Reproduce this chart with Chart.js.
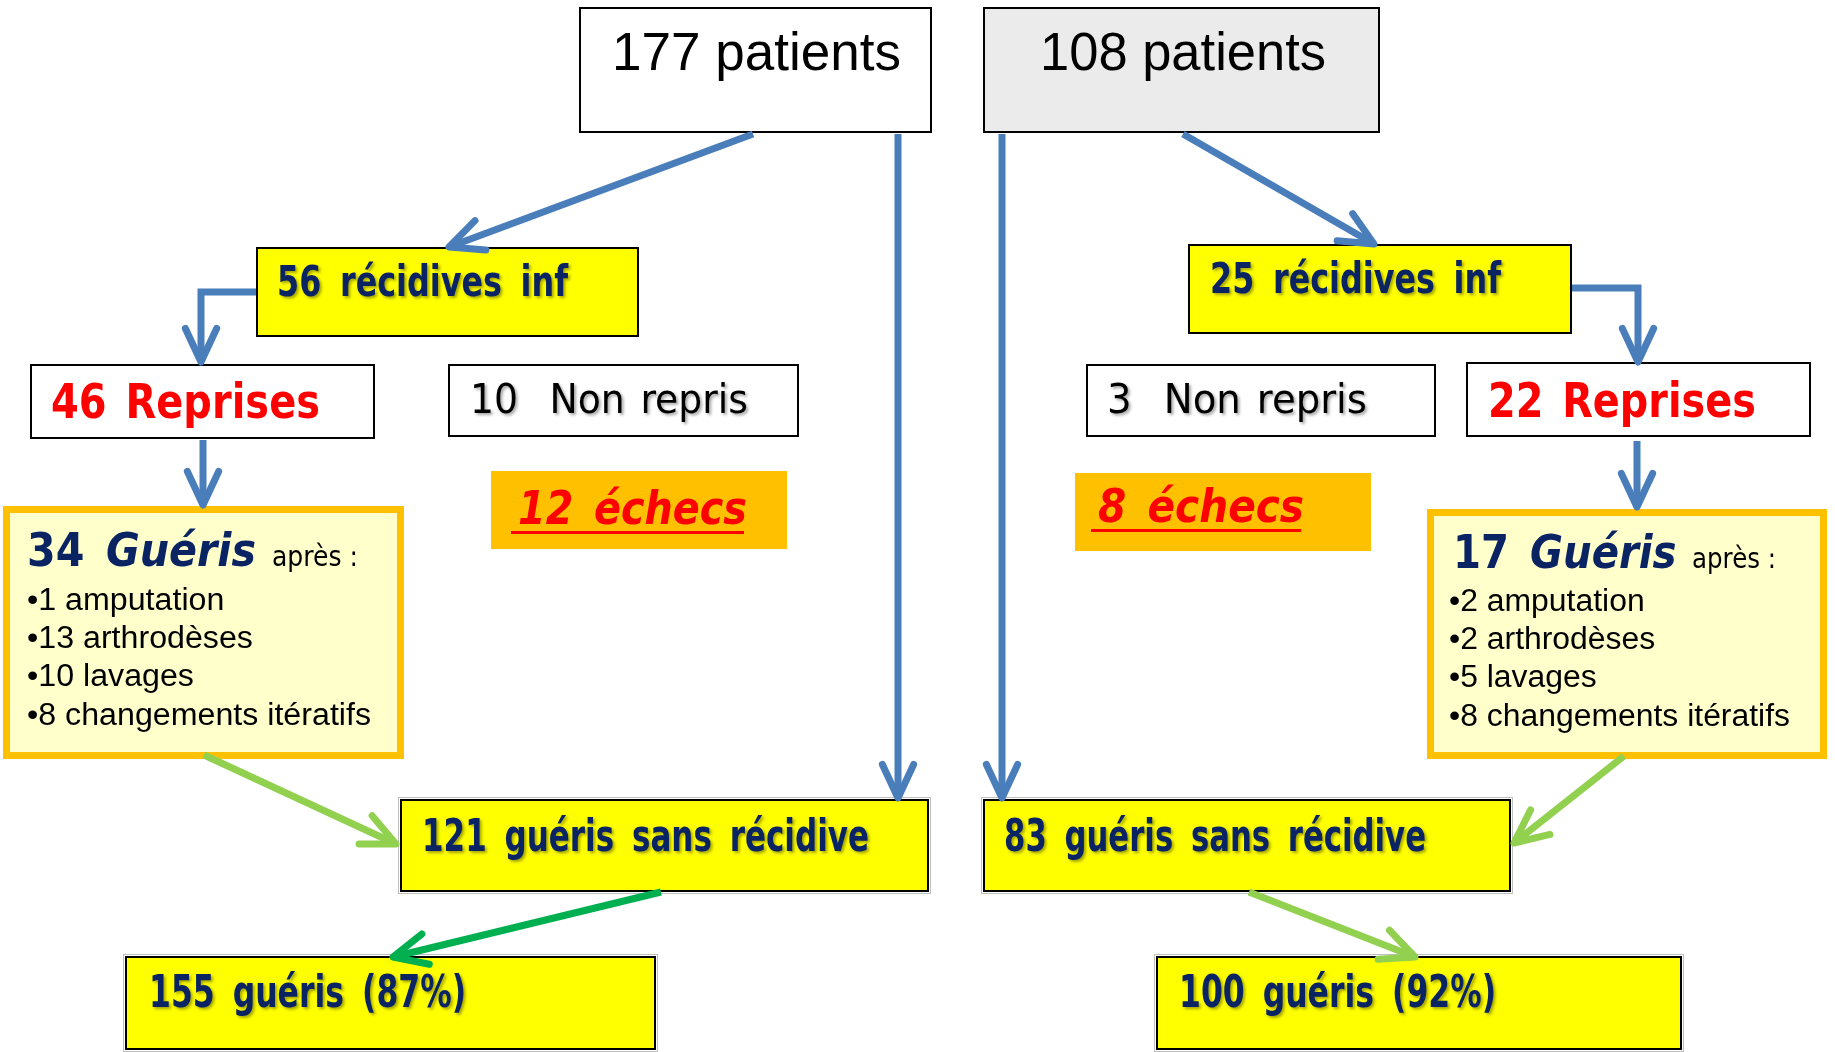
<!DOCTYPE html>
<html>
<head>
<meta charset="utf-8">
<script src="https://cdn.jsdelivr.net/npm/chart.js@4"></script>
<style>
  html, body { margin: 0; padding: 0; background: #fff; }
  #wrap { width: 1835px; height: 1052px; }
</style>
</head>
<body>
<div id="wrap"><canvas id="flow" width="1835" height="1052"></canvas></div>
<script>
// donnees (gauche = 177 patients, droite = 108 patients)
const patients = [177, 108];
const recidives = [56, 25];
const reprises = [46, 22];
const nonRepris = [10, 3];
const echecs = [12, 8];
const guerisApres = [34, 17];
const gestes = ['amputation', 'arthrodèses', 'lavages', 'changements itératifs'];
const gestesGauche = [1, 13, 10, 8];
const gestesDroite = [2, 2, 5, 8];
const sansRecidive = [121, 83];
const guerisTotal = [155, 100];
const pctGueris = [87, 92];

const W = 1835, H = 1052;
const COMIC = '"DejaVu Sans", sans-serif';
const ARIAL = '"Liberation Sans", Arial, sans-serif';
const NAVY = '#0A2463';
const BLUE = '#4A7EBB';
const LGREEN = '#92D050';
const DGREEN = '#00B050';

// mise en page des boites, en unites du graphe
const cadre = {
  pat: [[579, 7, 932, 133], [983, 7, 1380, 133]],
  rec: [[256, 247, 639, 337], [1188, 244, 1572, 334]],
  rep: [[30, 364, 375, 439], [1466, 362, 1811, 437]],
  non: [[448, 364, 799, 437], [1086, 364, 1436, 437]],
  ech: [[491, 471, 787, 549], [1075, 473, 1371, 551]],
  gue: [[3, 506, 404, 759], [1427, 509, 1827, 759]],
  san: [[400, 799, 929, 892], [983, 799, 1511, 892]],
  tot: [[125, 956, 656, 1050], [1156, 956, 1682, 1050]]
};
// position du texte : x, ligne de base, largeur visee
const texte = {
  pat: [[612, 70, 289], [1040, 70, 286]],
  rec: [[277, 296, 291], [1210, 293, 291]],
  rep: [[51, 418, 269], [1488, 417, 268]],
  non: [[470, 413, 278], [1107, 413, 260]],
  ech: [[518, 524, 229], [1098, 522, 206]],
  gue: [[27, 566, 331], [1453, 568, 323]],
  san: [[422, 851, 447], [1004, 851, 422]],
  tot: [[149, 1007, 317], [1179, 1007, 317]]
};
const puces = [
  { x: 27, y: [610, 648, 686, 725], w: 344, vals: gestesGauche },
  { x: 1449, y: [611, 649, 687, 726], w: 341, vals: gestesDroite }
];

// fleches : points en unites du graphe
const fleches = [
  { pts: [[753, 134], [449, 247]], color: BLUE },
  { pts: [[898, 134], [898, 798]], color: BLUE },
  { pts: [[256, 292], [201, 292], [201, 362]], color: BLUE },
  { pts: [[203, 440], [203, 505]], color: BLUE },
  { pts: [[1183, 134], [1374, 244]], color: BLUE },
  { pts: [[1002, 134], [1002, 798]], color: BLUE },
  { pts: [[1572, 288], [1638, 288], [1638, 362]], color: BLUE },
  { pts: [[1637, 441], [1637, 507]], color: BLUE },
  { pts: [[204, 755], [396, 844]], color: LGREEN },
  { pts: [[661, 892], [393, 957]], color: DGREEN },
  { pts: [[1624, 756], [1514, 843]], color: LGREEN },
  { pts: [[1249, 892], [1415, 957]], color: LGREEN }
];

function runs(key, i) {
  const shadow = true;
  switch (key) {
    case 'pat': return [{ t: patients[i] + ' patients', f: '53px ' + ARIAL, c: '#000' }];
    case 'rec': return [{ t: recidives[i] + ' récidives inf', f: 'bold 42px ' + COMIC, c: NAVY, s: shadow, ws: 10 }];
    case 'rep': return [{ t: reprises[i] + ' Reprises', f: 'bold 48px ' + COMIC, c: '#FF0000', ws: 6 }];
    case 'non': return [{ t: nonRepris[i] + '  Non repris', f: '41px ' + COMIC, c: '#000', s: shadow, ws: 4 }];
    case 'ech': return [{ t: echecs[i] + ' échecs', f: 'italic bold 46px ' + COMIC, c: '#FF0000', u: true, ws: 8 }];
    case 'gue': return [
      { t: guerisApres[i] + ' ', f: 'bold 46px ' + COMIC, c: NAVY, ws: 8 },
      { t: 'Guéris', f: 'italic bold 46px ' + COMIC, c: NAVY },
      { t: '  après :', f: '28px ' + COMIC, c: '#000' }
    ];
    case 'san': return [{ t: sansRecidive[i] + ' guéris sans récidive', f: 'bold 44px ' + COMIC, c: NAVY, s: shadow, ws: 10 }];
    case 'tot': return [{ t: guerisTotal[i] + ' guéris (' + pctGueris[i] + '%)', f: 'bold 44px ' + COMIC, c: NAVY, s: shadow, ws: 10 }];
  }
}

function drawRuns(ctx, list, x, y, w) {
  let total = 0;
  list.forEach(r => {
    ctx.font = r.f;
    ctx.wordSpacing = (r.ws || 0) + 'px';
    r.m = ctx.measureText(r.t).width;
    total += r.m;
  });
  ctx.wordSpacing = '0px';
  const sx = w / total;
  ctx.save();
  ctx.translate(x, y);
  ctx.scale(sx, 1);
  let cx = 0;
  list.forEach(r => {
    ctx.save();
    ctx.font = r.f;
    ctx.wordSpacing = (r.ws || 0) + 'px';
    ctx.fillStyle = r.c;
    ctx.textBaseline = 'alphabetic';
    if (r.s) {
      ctx.shadowColor = 'rgba(0,0,0,0.35)';
      ctx.shadowOffsetX = 2;
      ctx.shadowOffsetY = 2;
      ctx.shadowBlur = 3;
    }
    ctx.fillText(r.t, cx, 0);
    ctx.restore();
    if (r.u) {
      ctx.fillStyle = r.c;
      ctx.fillRect(cx - 7 / sx, 7, r.m + 4 / sx, 3);
    }
    cx += r.m;
  });
  ctx.restore();
}

const boxPlugin = {
  id: 'boites',
  beforeDatasetsDraw(chart) {
    const ctx = chart.ctx;
    const xs = chart.scales.x, ys = chart.scales.y;
    const px = v => xs.getPixelForValue(v);
    const py = v => ys.getPixelForValue(v);
    Object.keys(cadre).forEach(key => {
      cadre[key].forEach((b, i) => {
        const x0 = px(b[0]), y0 = py(b[1]), x1 = px(b[2]), y1 = py(b[3]);
        ctx.save();
        if (key === 'gue') {
          ctx.fillStyle = '#FFFFCC';
          ctx.fillRect(x0, y0, x1 - x0, y1 - y0);
          ctx.strokeStyle = '#FFC000';
          ctx.lineWidth = 7;
          ctx.strokeRect(x0 + 3.5, y0 + 3.5, x1 - x0 - 7, y1 - y0 - 7);
        } else if (key === 'ech') {
          ctx.fillStyle = '#FFC000';
          ctx.fillRect(x0, y0, x1 - x0, y1 - y0);
        } else {
          let fill = '#FFFFFF';
          if (key === 'pat' && i === 1) fill = '#EBEBEB';
          if (key === 'rec' || key === 'san' || key === 'tot') fill = '#FFFF00';
          ctx.fillStyle = fill;
          ctx.fillRect(x0, y0, x1 - x0, y1 - y0);
          if (key === 'tot' || key === 'san') {
            ctx.strokeStyle = 'rgba(0,0,0,0.25)';
            ctx.lineWidth = 1;
            ctx.strokeRect(x0 - 1.5, y0 - 1.5, x1 - x0 + 3, y1 - y0 + 3);
          }
          ctx.strokeStyle = '#000';
          ctx.lineWidth = 2;
          ctx.strokeRect(x0 + 1, y0 + 1, x1 - x0 - 2, y1 - y0 - 2);
        }
        ctx.restore();
        const t = texte[key][i];
        drawRuns(ctx, runs(key, i), px(t[0]), py(t[1]), t[2]);
      });
    });
    // listes a puces
    puces.forEach(p => {
      ctx.save();
      ctx.font = '31px ' + ARIAL;
      const lignes = p.vals.map((v, k) => '•' + v + ' ' + gestes[k]);
      const longest = Math.max(...lignes.map(l => ctx.measureText(l).width));
      const sx = p.w / longest;
      lignes.forEach((l, k) => {
        ctx.save();
        ctx.translate(px(p.x), py(p.y[k]));
        ctx.scale(sx, 1);
        ctx.fillStyle = '#000';
        ctx.fillText(l, 0, 0);
        ctx.restore();
      });
      ctx.restore();
    });
  }
};

const arrowPlugin = {
  id: 'pointes',
  afterDatasetsDraw(chart) {
    const ctx = chart.ctx;
    chart.data.datasets.forEach((ds, i) => {
      const pts = chart.getDatasetMeta(i).data;
      const a = pts[pts.length - 2], b = pts[pts.length - 1];
      const ang = Math.atan2(b.y - a.y, b.x - a.x);
      const len = 37, spread = 25 * Math.PI / 180;
      ctx.save();
      ctx.strokeStyle = ds.borderColor;
      ctx.lineWidth = 7;
      ctx.lineCap = 'round';
      ctx.lineJoin = 'round';
      ctx.beginPath();
      ctx.moveTo(b.x - len * Math.cos(ang - spread), b.y - len * Math.sin(ang - spread));
      ctx.lineTo(b.x, b.y);
      ctx.lineTo(b.x - len * Math.cos(ang + spread), b.y - len * Math.sin(ang + spread));
      ctx.stroke();
      ctx.restore();
    });
  }
};

new Chart(document.getElementById('flow'), {
  type: 'scatter',
  data: {
    datasets: fleches.map(f => ({
      data: f.pts.map(p => ({ x: p[0], y: p[1] })),
      showLine: true,
      borderColor: f.color,
      borderWidth: 7,
      borderJoinStyle: 'miter',
      pointRadius: 0,
      pointHoverRadius: 0,
      fill: false,
      tension: 0
    }))
  },
  options: {
    responsive: false,
    animation: false,
    devicePixelRatio: 1,
    events: [],
    layout: { padding: 0 },
    plugins: { legend: { display: false }, tooltip: { enabled: false } },
    scales: {
      x: { type: 'linear', min: 0, max: W, display: false },
      y: { type: 'linear', min: 0, max: H, reverse: true, display: false }
    }
  },
  plugins: [boxPlugin, arrowPlugin]
});
</script>
</body>
</html>
